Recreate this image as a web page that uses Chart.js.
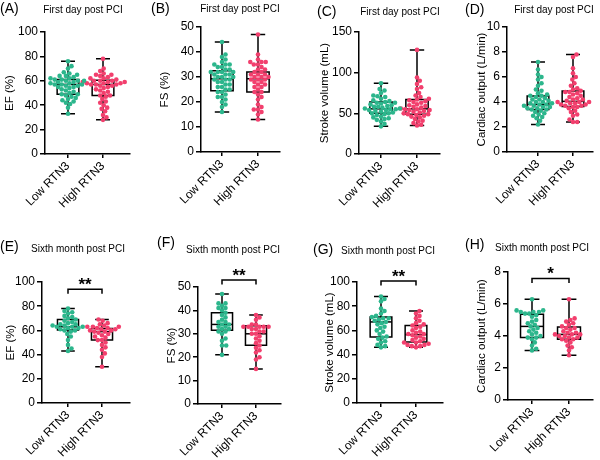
<!DOCTYPE html>
<html><head><meta charset="utf-8">
<script src="https://cdn.jsdelivr.net/npm/chart.js@4.4.0/dist/chart.umd.min.js"></script>
<style>
html,body{margin:0;padding:0;background:#fff;width:600px;height:460px;overflow:hidden;position:relative;}
canvas{position:absolute;}
</style></head><body>
<script>
const categories = ['Low RTN3', 'High RTN3'];
const panelLetters = ['(A)','(B)','(C)','(D)','(E)','(F)','(G)','(H)'];
const subtitles = ['First day post PCI','First day post PCI','First day post PCI','First day post PCI',
  'Sixth month post PCI','Sixth month post PCI','Sixth month post PCI','Sixth month post PCI'];
const yTitles = ['EF (%)','FS (%)','Stroke volume (mL)','Cardiac output (L/min)',
  'EF (%)','FS (%)','Stroke volume (mL)','Cardiac output (L/min)'];
const yMaxes = [100, 50, 150, 10, 100, 50, 100, 8];
const ySteps = [20, 10, 50, 2, 20, 10, 20, 2];
const sigLabels = ['', '', '', '', '**', '**', '**', '*'];
const sigLevels = [null, null, null, null, 94, 53, 100.8, 7.6];

// Individual values
const efDay1Low = [33,38,41,42,43,44,45,46,47,48,49,49,50,51,52,53,54,55,55,56,56,57,57,57,58,58,59,59,60,60,60,61,61,62,62,63,64,64,65,66,67,70,72,76];
const efDay1High = [28,30,32,35,37,38,40,42,43,45,47,48,48,50,51,52,53,54,55,56,56,57,57,57,58,58,58,59,59,59,60,60,60,61,62,62,63,64,65,65,66,68,70,78];
const fsDay1Low = [16,18,19,20,21,22,22,23,24,24,25,25,26,26,27,27,28,28,29,29,29,30,30,30,31,31,31,32,32,32,32,33,33,34,34,35,35,35,36,37,38,39,44];
const fsDay1High = [13,15,16,17,17,18,19,21,22,23,24,24,25,26,26,27,27,28,28,29,29,29,30,30,30,31,31,31,32,32,33,33,34,35,35,36,36,36,37,39,47];
const svDay1Low = [34,37,40,42,43,44,45,46,48,49,50,50,51,52,53,54,54,55,55,56,56,57,58,58,59,60,61,62,63,63,64,65,66,68,70,71,72,75,78,80,87];
const svDay1High = [35,36,38,40,41,43,45,46,47,48,49,49,50,51,52,53,54,54,55,55,56,57,58,59,60,61,63,64,65,66,67,68,70,72,75,80,82,86,90,94,128];
const coDay1Low = [2.2,2.5,2.7,2.8,2.9,3.0,3.1,3.2,3.3,3.4,3.4,3.5,3.5,3.6,3.6,3.7,3.7,3.8,3.8,3.9,3.9,4.0,4.0,4.1,4.2,4.2,4.3,4.4,4.5,4.5,4.6,4.7,4.9,5.0,5.3,5.5,5.8,6.0,6.2,6.6,7.2];
const coDay1High = [2.4,2.4,2.6,2.9,3.0,3.2,3.3,3.5,3.6,3.6,3.7,3.7,3.8,3.8,3.9,3.9,4.0,4.0,4.0,4.1,4.2,4.2,4.3,4.4,4.5,4.6,4.7,4.8,4.8,4.9,5.0,5.1,5.3,5.5,5.8,6.0,6.3,6.7,7.6,7.8];
const efMonth6Low = [43,45,48,52,55,57,59,60,60,61,62,62,63,63,63,64,64,65,65,66,67,68,69,70,71,72,74,75,76,78];
const efMonth6High = [30,38,41,44,46,48,50,52,52,54,55,56,57,58,59,59,60,60,61,61,62,62,63,63,63,64,65,66,68,69];
const fsMonth6Low = [21,25,25,27,28,30,31,31,32,32,33,33,34,34,35,35,36,37,38,39,40,41,41,42,43,43,47];
const fsMonth6High = [15,19,20,22,23,24,25,26,27,28,29,30,30,31,31,32,32,33,33,33,33,33,34,34,36,37,38];
const svMonth6Low = [46,47,48,50,51,53,54,55,57,59,60,62,63,65,66,67,68,69,70,70,71,72,74,76,78,84,86,88];
const svMonth6High = [46,47,47,48,48,49,50,50,51,52,53,54,55,56,57,57,58,59,60,62,63,64,65,66,68,70,72,74,76];
const coMonth6Low = [3.1,3.2,3.4,3.6,3.8,3.9,3.9,4.0,4.1,4.2,4.3,4.4,4.5,4.6,4.7,4.8,4.9,5.0,5.2,5.3,5.4,5.4,5.5,5.5,5.5,5.6,5.6,6.3];
const coMonth6High = [2.8,3.1,3.3,3.4,3.6,3.7,3.8,3.8,3.9,3.9,4.0,4.0,4.1,4.1,4.1,4.2,4.2,4.3,4.4,4.5,4.5,4.6,4.7,4.8,4.9,5.0,5.1,6.3];

// Box statistics [min, Q1, median, Q3, max]
const efDay1LowBox = [33,49,57,61,76];
const efDay1HighBox = [28,48,57,60.5,78];
const fsDay1LowBox = [16,24.5,29.3,32.5,44];
const fsDay1HighBox = [13,24,29.3,32,47];
const svDay1LowBox = [34,50,55.5,64,87];
const svDay1HighBox = [35,49,55.5,67,128];
const coDay1LowBox = [2.2,3.41,3.8,4.48,7.2];
const coDay1HighBox = [2.4,3.65,4.05,4.88,7.8];
const efMonth6LowBox = [43,60.3,63,69,78];
const efMonth6HighBox = [30,52,59,61.5,69];
const fsMonth6LowBox = [21,31.5,34,39,47];
const fsMonth6HighBox = [15,25.1,30,33.4,38];
const svMonth6LowBox = [46,54.5,67,71,88];
const svMonth6HighBox = [46,50.5,56.5,64,76];
const coMonth6LowBox = [3.1,3.9,4.6,5.36,6.3];
const coMonth6HighBox = [2.8,3.8,4.1,4.57,6.3];

const lowSeries = [efDay1Low, fsDay1Low, svDay1Low, coDay1Low, efMonth6Low, fsMonth6Low, svMonth6Low, coMonth6Low];
const highSeries = [efDay1High, fsDay1High, svDay1High, coDay1High, efMonth6High, fsMonth6High, svMonth6High, coMonth6High];
const lowBoxes = [efDay1LowBox, fsDay1LowBox, svDay1LowBox, coDay1LowBox, efMonth6LowBox, fsMonth6LowBox, svMonth6LowBox, coMonth6LowBox];
const highBoxes = [efDay1HighBox, fsDay1HighBox, svDay1HighBox, coDay1HighBox, efMonth6HighBox, fsMonth6HighBox, svMonth6HighBox, coMonth6HighBox];

// Layout (absolute page pixels)
const layouts = [
  {left:0,   top:0,   axisX:45,  topY:32,  botY:154, rightX:130, t0:68,  t1:103, titleOff:10, letter:[0,9],    sub:[83,10]},
  {left:150, top:0,   axisX:201, topY:27,  botY:152, rightX:280, t0:222, t1:258, titleOff:15, letter:[151,9],  sub:[240,9]},
  {left:300, top:0,   axisX:359, topY:32,  botY:154, rightX:440, t0:381, t1:417, titleOff:25, letter:[317,12], sub:[400,12]},
  {left:450, top:0,   axisX:507, topY:27,  botY:152, rightX:593, t0:538, t1:573, titleOff:32, letter:[465,10], sub:[554,10]},
  {left:0,   top:230, axisX:42,  topY:282, botY:403, rightX:130, t0:68,  t1:102, titleOff:11, letter:[0,247],  sub:[78,249]},
  {left:150, top:230, axisX:198, topY:287, botY:404, rightX:281, t0:222, t1:256, titleOff:22, letter:[157,243],sub:[233,250]},
  {left:300, top:230, axisX:357, topY:282, botY:403, rightX:443, t0:381, t1:416, titleOff:30, letter:[313,250],sub:[388,251]},
  {left:450, top:230, axisX:508, topY:272, botY:400, rightX:593, t0:532, t1:569, titleOff:32, letter:[465,245],sub:[542,248]}
];
const GREEN = '#2cb68c';
const PINK = '#f23f6d';
const FONT = "'Liberation Sans', Arial, Helvetica, sans-serif";
Chart.defaults.font.family = FONT;
Chart.defaults.color = '#000';

// Beeswarm-style horizontal spreading so dots do not overlap (layout only; values untouched)
function swarm(vals, center, pxPerY, pxPerX) {
  const D = 4.2, placed = [];
  const cands = [0];
  for (let s = 0.7; s <= 30; s += 0.7) { cands.push(s, -s); }
  [...vals].sort((a, b) => a - b).forEach(v => {
    const yp = v * pxPerY;
    let chosen = 0;
    for (const c of cands) {
      let ok = true;
      for (const p of placed) {
        const dy = p.yp - yp; if (Math.abs(dy) >= D) continue;
        const dx = p.xp - c; if (dx * dx + dy * dy < D * D) { ok = false; break; }
      }
      if (ok) { chosen = c; break; }
    }
    placed.push({yp, xp: chosen, v});
  });
  return placed.map(p => ({x: center + p.xp / pxPerX, y: p.v}));
}
function boxSegments(c, s) {
  const bw = 0.31, cw = 0.2;
  return [
    [{x:c-bw,y:s[1]},{x:c+bw,y:s[1]},{x:c+bw,y:s[3]},{x:c-bw,y:s[3]},{x:c-bw,y:s[1]},{x:c+bw,y:s[1]}],
    [{x:c-bw,y:s[2]},{x:c+bw,y:s[2]}],
    [{x:c,y:s[3]},{x:c,y:s[4]},{x:c-cw,y:s[4]},{x:c+cw,y:s[4]}],
    [{x:c,y:s[1]},{x:c,y:s[0]},{x:c-cw,y:s[0]},{x:c+cw,y:s[0]}]
  ];
}

layouts.forEach((L, i) => {
  const cv = document.createElement('canvas');
  cv.width = 150; cv.height = 230;
  cv.style.left = L.left + 'px'; cv.style.top = L.top + 'px';
  document.body.appendChild(cv);
  const unit = L.t1 - L.t0;
  const xMin = -(L.t0 - L.axisX) / unit;
  const xMax = 1 + (L.rightX - L.t1) / unit;
  const pxPerY = (L.botY - L.topY) / yMaxes[i];
  const lineDs = pts => ({data: pts, showLine: true, borderColor: '#000', borderWidth: 1.5,
      pointRadius: 0, fill: false, order: 2, clip: false, borderJoinStyle: 'miter'});
  const datasets = [
    {data: swarm(lowSeries[i], 0, pxPerY, unit), pointBackgroundColor: GREEN, pointBorderColor: GREEN, pointBorderWidth: 0, pointRadius: 2.3, order: 0, clip: false},
    {data: swarm(highSeries[i], 1, pxPerY, unit), pointBackgroundColor: PINK, pointBorderColor: PINK, pointBorderWidth: 0, pointRadius: 2.3, order: 0, clip: false},
    ...boxSegments(0, lowBoxes[i]).map(lineDs),
    ...boxSegments(1, highBoxes[i]).map(lineDs)
  ];
  const deco = {
    id: 'deco' + i,
    afterDraw(chart) {
      const ctx = chart.ctx;
      ctx.save();
      ctx.fillStyle = '#000';
      ctx.textBaseline = 'middle';
      ctx.textAlign = 'left';
      ctx.font = '14px ' + FONT;
      ctx.fillText(panelLetters[i], L.letter[0] - L.left, L.letter[1] - L.top);
      ctx.textAlign = 'center';
      ctx.font = '10px ' + FONT;
      ctx.fillText(subtitles[i], L.sub[0] - L.left, L.sub[1] - L.top);
      if (sigLevels[i] !== null) {
        const xs = chart.scales.x, ys = chart.scales.y;
        const x0 = xs.getPixelForValue(0), x1 = xs.getPixelForValue(1), y = ys.getPixelForValue(sigLevels[i]);
        ctx.strokeStyle = '#000'; ctx.lineWidth = 1.5;
        ctx.beginPath();
        ctx.moveTo(x0, y + 4.5); ctx.lineTo(x0, y); ctx.lineTo(x1, y); ctx.lineTo(x1, y + 4.5);
        ctx.stroke();
        ctx.font = 'bold 17px ' + FONT;
        ctx.textBaseline = 'alphabetic';
        ctx.fillText(sigLabels[i], (x0 + x1) / 2, y + 1);
      }
      ctx.restore();
    }
  };
  new Chart(cv, {
    type: 'scatter',
    data: {datasets},
    options: {
      responsive: false, animation: false, devicePixelRatio: 1, events: [],
      layout: {padding: {left: 0, top: L.topY - L.top, right: L.left + 150 - L.rightX, bottom: 0}},
      plugins: {legend: {display: false}, tooltip: {enabled: false}},
      scales: {
        x: {
          type: 'linear', min: xMin, max: xMax,
          afterBuildTicks: s => { s.ticks = [{value: 0}, {value: 1}]; },
          afterFit: s => { s.height = L.top + 230 - L.botY; },
          ticks: {callback: v => (v === 0 || v === 1) ? categories[v] : '', minRotation: 45, maxRotation: 45,
                  autoSkip: false, color: '#000', font: {size: 12}, padding: 1},
          grid: {display: true, drawOnChartArea: false, drawTicks: true, tickLength: 4, color: '#000', lineWidth: 1.5},
          border: {display: true, color: '#000', width: 1.5}
        },
        y: {
          min: 0, max: yMaxes[i],
          afterBuildTicks: s => { const t = []; for (let v = 0; v <= yMaxes[i] + 1e-9; v += ySteps[i]) t.push({value: v}); s.ticks = t; },
          afterFit: s => { s.width = L.axisX - L.left; },
          ticks: {color: '#000', font: {size: 12}, padding: 2},
          title: {display: true, text: yTitles[i], color: '#000', font: {size: 11.5}, padding: {top: L.titleOff - 7, bottom: 0}},
          grid: {display: true, drawOnChartArea: false, drawTicks: true, tickLength: 5, color: '#000', lineWidth: 1.5},
          border: {display: true, color: '#000', width: 1.5}
        }
      }
    },
    plugins: [deco]
  });
});
</script>
</body></html>
